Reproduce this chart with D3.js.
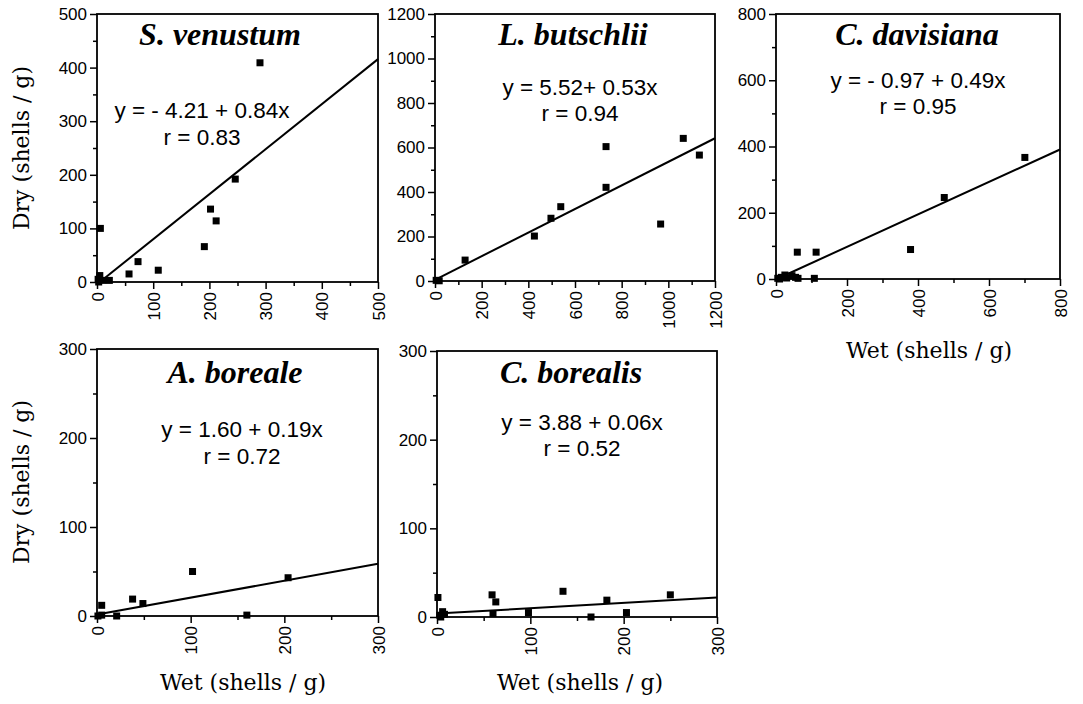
<!DOCTYPE html>
<html>
<head>
<meta charset="utf-8">
<script src="https://cdn.jsdelivr.net/npm/d3@7"></script>
<style>
  body { margin: 0; background: #fff; }
  svg { display: block; }
  .tick text { font-family: "Liberation Sans", Arial, sans-serif; font-size: 17px; fill: #000; }
  .title { font-family: "Liberation Serif", "Times New Roman", serif; font-weight: bold; font-style: italic; font-size: 32px; }
  .eq { font-family: "Liberation Sans", Arial, sans-serif; font-size: 22.5px; }
  .axtitle { font-family: "DejaVu Serif", serif; font-size: 22px; }
</style>
</head>
<body>
<svg id="chart" width="1083" height="704"></svg>
<script>
// wet vs dry counts per species
var venustumWet = [290, 246, 202, 212, 191, 73, 109, 57, 6, 2, 5, 10, 3, 22];
var venustumDry = [409, 192, 136, 114, 66, 38, 22, 15, 100, 5, 12, 3, 0, 3];

var butschliiWet = [1064, 1133, 733, 733, 967, 539, 497, 426, 129, 18, 5];
var butschliiDry = [641, 566, 604, 421, 256, 334, 282, 202, 94, 1, 3];

var davisianaWet = [701, 474, 379, 60, 113, 108, 5, 15, 25, 30, 45, 55, 62, 10];
var davisianaDry = [367, 246, 89, 81, 81, 2, 2, 5, 12, 3, 10, 5, 2, 0];

var borealeWet = [102, 204, 38, 49, 5, 21, 160, 1, 5];
var borealeDry = [50, 43, 19, 14, 12, 0, 1, 0, 1];

var borealisWet = [135, 250, 182, 59, 63, 60, 98, 165, 203, 1, 3, 6, 8, 4];
var borealisDry = [29, 25, 19, 25, 17, 4, 5, 0, 5, 22, 2, 6, 3, 0];

var species = ["S. venustum", "L. butschlii", "C. davisiana", "A. boreale", "C. borealis"];
var intercepts = [-4.21, 5.52, -0.97, 1.60, 3.88];
var slopes = [0.84, 0.53, 0.49, 0.19, 0.06];
var eqLabels = ["y = - 4.21 + 0.84x", "y = 5.52+ 0.53x", "y = - 0.97 + 0.49x", "y = 1.60 + 0.19x", "y = 3.88 + 0.06x"];
var rLabels = ["r = 0.83", "r = 0.94", "r = 0.95", "r = 0.72", "r = 0.52"];
var axisMax = [500, 1200, 800, 300, 300];
var majorStep = [100, 200, 200, 100, 100];

var svg = d3.select("#chart");

// layout of each panel box plus where its texts sit
var panels = [
  {wet: venustumWet, dry: venustumDry, box: [97, 378, 14, 282], titleX: 220, titleY: 45, eqX: 202, eqY: 118, rY: 145},
  {wet: butschliiWet, dry: butschliiDry, box: [435, 715, 14, 281], titleX: 573, titleY: 45, eqX: 580, eqY: 95, rY: 121},
  {wet: davisianaWet, dry: davisianaDry, box: [776, 1060, 14, 279], titleX: 917, titleY: 45, eqX: 918, eqY: 88, rY: 114},
  {wet: borealeWet, dry: borealeDry, box: [97, 378, 349, 616], titleX: 235, titleY: 383, eqX: 242, eqY: 437, rY: 464},
  {wet: borealisWet, dry: borealisDry, box: [437, 717, 351, 617], titleX: 571, titleY: 383, eqX: 582, eqY: 430, rY: 456}
];

panels.forEach(function(p, i) {
  var max = axisMax[i], step = majorStep[i];
  var x = d3.scaleLinear().domain([0, max]).range([p.box[0], p.box[1]]);
  var y = d3.scaleLinear().domain([0, max]).range([p.box[3], p.box[2]]);
  var major = d3.range(0, max + 1, step);
  var minor = d3.range(step / 2, max, step);

  var g = svg.append("g");

  // minor ticks first, no labels
  g.append("g").attr("transform", "translate(0," + p.box[3] + ")")
    .call(d3.axisBottom(x).tickValues(minor).tickSize(4).tickFormat(""))
    .call(function(a){ a.select(".domain").remove(); });
  g.append("g").attr("transform", "translate(" + p.box[0] + ",0)")
    .call(d3.axisLeft(y).tickValues(minor).tickSize(4).tickFormat(""))
    .call(function(a){ a.select(".domain").remove(); });

  var xa = g.append("g").attr("transform", "translate(0," + p.box[3] + ")")
    .call(d3.axisBottom(x).tickValues(major).tickSize(7).tickFormat(d3.format("d")));
  xa.select(".domain").remove();
  xa.selectAll(".tick text")
    .attr("transform", "rotate(-90)")
    .attr("text-anchor", "end")
    .attr("x", -10).attr("y", 0).attr("dy", "0.36em");

  var ya = g.append("g").attr("transform", "translate(" + p.box[0] + ",0)")
    .call(d3.axisLeft(y).tickValues(major).tickSize(7).tickPadding(3).tickFormat(d3.format("d")));
  ya.select(".domain").remove();

  g.selectAll(".tick line").attr("stroke", "#000").attr("stroke-width", 1.5);

  g.append("rect")
    .attr("x", p.box[0]).attr("y", p.box[2])
    .attr("width", p.box[1] - p.box[0]).attr("height", p.box[3] - p.box[2])
    .attr("fill", "none").attr("stroke", "#000").attr("stroke-width", 1.8);

  // fitted line, starting where it crosses y = 0 if intercept is negative
  var b = intercepts[i], m = slopes[i];
  var x0 = b < 0 ? -b / m : 0;
  g.append("line")
    .attr("x1", x(x0)).attr("y1", y(b + m * x0))
    .attr("x2", x(max)).attr("y2", y(b + m * max))
    .attr("stroke", "#000").attr("stroke-width", 2);

  g.selectAll("rect.pt").data(p.wet).enter().append("rect")
    .attr("class", "pt")
    .attr("x", function(d){ return x(d) - 3.5; })
    .attr("y", function(d, j){ return y(p.dry[j]) - 3.5; })
    .attr("width", 7).attr("height", 7)
    .attr("fill", "#000");

  g.append("text").attr("class", "title").attr("x", p.titleX).attr("y", p.titleY)
    .attr("text-anchor", "middle").text(species[i]);
  g.append("text").attr("class", "eq").attr("x", p.eqX).attr("y", p.eqY)
    .attr("text-anchor", "middle").text(eqLabels[i]);
  g.append("text").attr("class", "eq").attr("x", p.eqX).attr("y", p.rY)
    .attr("text-anchor", "middle").text(rLabels[i]);
});

// axis titles
svg.append("text").attr("class", "axtitle")
  .attr("transform", "translate(29,148) rotate(-90)")
  .attr("text-anchor", "middle").text("Dry (shells / g)");
svg.append("text").attr("class", "axtitle")
  .attr("transform", "translate(29,482) rotate(-90)")
  .attr("text-anchor", "middle").text("Dry (shells / g)");

[[929, 358], [243, 690], [580, 690]].forEach(function(pos) {
  svg.append("text").attr("class", "axtitle")
    .attr("x", pos[0]).attr("y", pos[1])
    .attr("text-anchor", "middle").text("Wet (shells / g)");
});
</script>
</body>
</html>
